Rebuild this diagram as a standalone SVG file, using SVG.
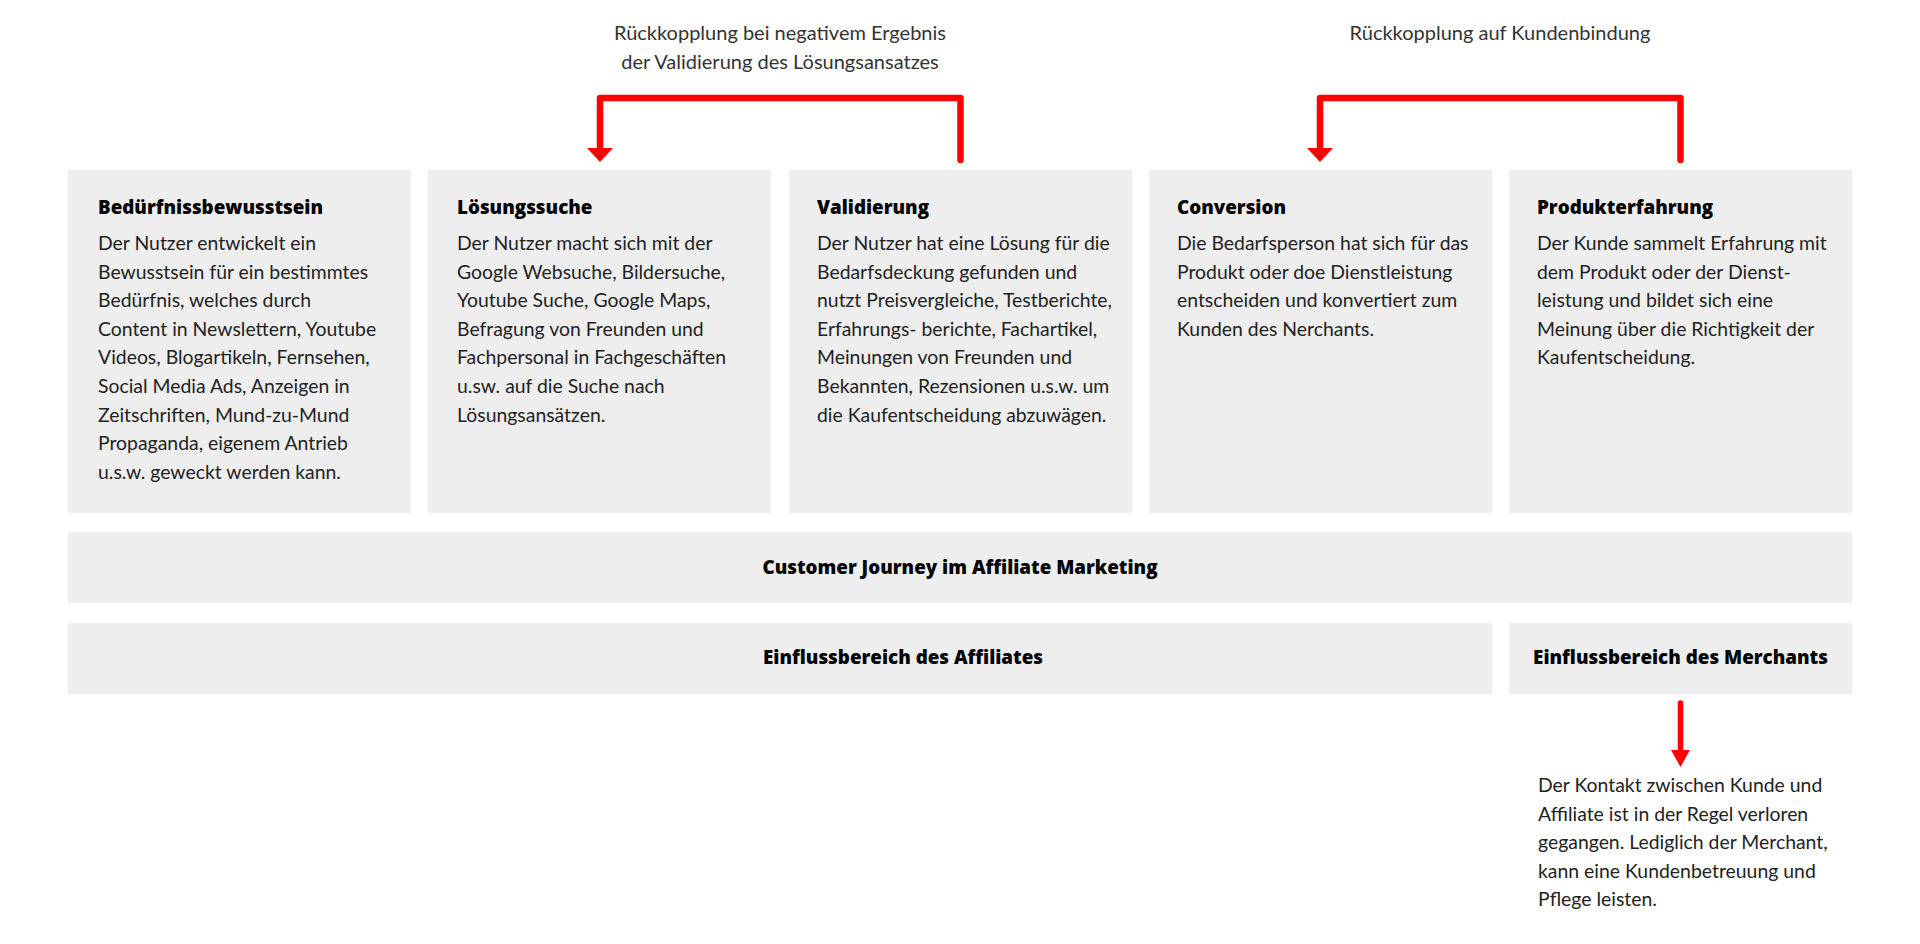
<svg xmlns="http://www.w3.org/2000/svg" width="1920" height="944" viewBox="0 0 1920 944">
<style>
.box{fill:#eeeeee}
.title{font-family:"Open Sans",Lato,"Liberation Sans",sans-serif;font-weight:800;font-size:18.8px;fill:#000}
.body{font-family:Lato,"Liberation Sans",sans-serif;font-size:19.4px;fill:#222}
.lbl{font-family:Lato,"Liberation Sans",sans-serif;font-size:20px;fill:#333}
.red{fill:none;stroke:#ff0000;stroke-width:6.5;stroke-linejoin:round;stroke-linecap:round}
</style>
<defs>
<marker id="ah" markerUnits="userSpaceOnUse" viewBox="0 0 14 26" refX="0" refY="13" markerWidth="14" markerHeight="26" orient="auto">
<path d="M0,0 L14,13 L0,26 z" fill="#ff0000"/>
</marker>
<marker id="ah2" markerUnits="userSpaceOnUse" viewBox="0 0 17 19" refX="0" refY="9.5" markerWidth="17" markerHeight="19" orient="auto">
<path d="M0,0 L17,9.5 L0,19 z" fill="#ff0000"/>
</marker>
</defs>
<rect width="1920" height="944" fill="#ffffff"/>

<g id="label-validierung">
<text class="lbl" x="780" y="40" text-anchor="middle">Rückkopplung bei negativem Ergebnis</text>
<text class="lbl" x="780" y="69" text-anchor="middle">der Validierung des Lösungsansatzes</text>
</g>
<g id="label-kundenbindung">
<text class="lbl" x="1500" y="40" text-anchor="middle">Rückkopplung auf Kundenbindung</text>
</g>

<g id="node-beduerfnis">
<rect class="box" x="68" y="170" width="343" height="343"/>
<text class="title" x="98" y="214">Bedürfnissbewusstsein</text>
<text class="body" x="98" y="250">Der Nutzer entwickelt ein</text>
<text class="body" x="98" y="278.6">Bewusstsein für ein bestimmtes</text>
<text class="body" x="98" y="307.2">Bedürfnis, welches durch</text>
<text class="body" x="98" y="335.8">Content in Newslettern, Youtube</text>
<text class="body" x="98" y="364.4">Videos, Blogartikeln, Fernsehen,</text>
<text class="body" x="98" y="393">Social Media Ads, Anzeigen in</text>
<text class="body" x="98" y="421.6">Zeitschriften, Mund-zu-Mund</text>
<text class="body" x="98" y="450.2">Propaganda, eigenem Antrieb</text>
<text class="body" x="98" y="478.8">u.s.w. geweckt werden kann.</text>
</g>

<g id="node-loesungssuche">
<rect class="box" x="428" y="170" width="343" height="343"/>
<text class="title" x="457" y="214">Lösungssuche</text>
<text class="body" x="457" y="250">Der Nutzer macht sich mit der</text>
<text class="body" x="457" y="278.6">Google Websuche, Bildersuche,</text>
<text class="body" x="457" y="307.2">Youtube Suche, Google Maps,</text>
<text class="body" x="457" y="335.8">Befragung von Freunden und</text>
<text class="body" x="457" y="364.4">Fachpersonal in Fachgeschäften</text>
<text class="body" x="457" y="393">u.sw. auf die Suche nach</text>
<text class="body" x="457" y="421.6">Lösungsansätzen.</text>
</g>

<g id="node-validierung">
<rect class="box" x="789" y="170" width="343" height="343"/>
<text class="title" x="817" y="214">Validierung</text>
<text class="body" x="817" y="250">Der Nutzer hat eine Lösung für die</text>
<text class="body" x="817" y="278.6">Bedarfsdeckung gefunden und</text>
<text class="body" x="817" y="307.2">nutzt Preisvergleiche, Testberichte,</text>
<text class="body" x="817" y="335.8">Erfahrungs- berichte, Fachartikel,</text>
<text class="body" x="817" y="364.4">Meinungen von Freunden und</text>
<text class="body" x="817" y="393">Bekannten, Rezensionen u.s.w. um</text>
<text class="body" x="817" y="421.6">die Kaufentscheidung abzuwägen.</text>
</g>

<g id="node-conversion">
<rect class="box" x="1149" y="170" width="343" height="343"/>
<text class="title" x="1177" y="214">Conversion</text>
<text class="body" x="1177" y="250">Die Bedarfsperson hat sich für das</text>
<text class="body" x="1177" y="278.6">Produkt oder doe Dienstleistung</text>
<text class="body" x="1177" y="307.2">entscheiden und konvertiert zum</text>
<text class="body" x="1177" y="335.8">Kunden des Nerchants.</text>
</g>

<g id="node-produkterfahrung">
<rect class="box" x="1509" y="170" width="343" height="343"/>
<text class="title" x="1537" y="214">Produkterfahrung</text>
<text class="body" x="1537" y="250">Der Kunde sammelt Erfahrung mit</text>
<text class="body" x="1537" y="278.6">dem Produkt oder der Dienst-</text>
<text class="body" x="1537" y="307.2">leistung und bildet sich eine</text>
<text class="body" x="1537" y="335.8">Meinung über die Richtigkeit der</text>
<text class="body" x="1537" y="364.4">Kaufentscheidung.</text>
</g>

<g id="node-customer-journey">
<rect class="box" x="68" y="532" width="1784" height="71"/>
<text class="title" x="960" y="574" text-anchor="middle">Customer Journey im Affiliate Marketing</text>
</g>

<g id="node-affiliate">
<rect class="box" x="68" y="623" width="1424" height="71"/>
<text class="title" x="763" y="664">Einflussbereich des Affiliates</text>
</g>

<g id="node-merchant">
<rect class="box" x="1509" y="623" width="343" height="71"/>
<text class="title" x="1680.5" y="664" text-anchor="middle">Einflussbereich des Merchants</text>
</g>

<g id="note-kontakt">
<text class="body" x="1538" y="792">Der Kontakt zwischen Kunde und</text>
<text class="body" x="1538" y="820.6">Affiliate ist in der Regel verloren</text>
<text class="body" x="1538" y="849.2">gegangen. Lediglich der Merchant,</text>
<text class="body" x="1538" y="877.8">kann eine Kundenbetreuung und</text>
<text class="body" x="1538" y="906.4">Pflege leisten.</text>
</g>

<g id="connectors">
<path class="red" d="M960.5,160 V98 H600 V148" marker-end="url(#ah)"/>
<path class="red" d="M1680.5,160 V98 H1320 V148" marker-end="url(#ah)"/>
<path class="red" style="stroke-width:5.5" d="M1680.5,703 V750" marker-end="url(#ah2)"/>
</g>
</svg>
